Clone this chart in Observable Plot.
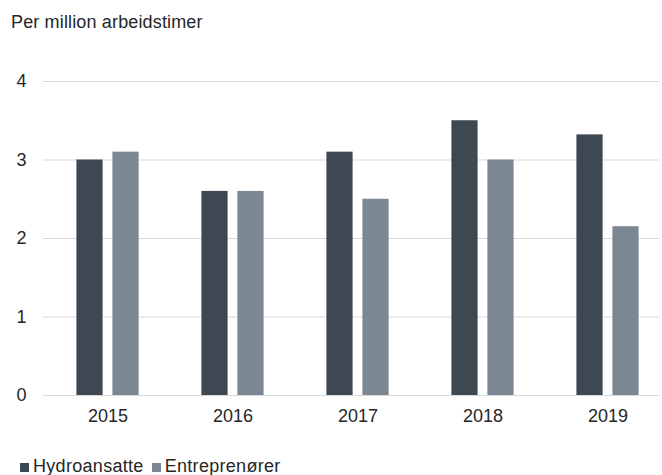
<!DOCTYPE html>
<html>
<head>
<meta charset="utf-8">
<script src="https://cdn.jsdelivr.net/npm/d3@7"></script>
<script src="https://cdn.jsdelivr.net/npm/@observablehq/plot@0.6"></script>
<style>
  html, body { margin: 0; padding: 0; background: #fff; }
  body { width: 662px; height: 475px; overflow: hidden; font-family: "Liberation Sans", Arial, sans-serif; color: #262626; }
  #title { height: 40px; box-sizing: border-box; padding: 12px 0 0 11px; font-size: 18px; line-height: 20px; letter-spacing: 0.15px; }
  #chart svg { display: block; }
  #legend { box-sizing: border-box; padding: 16px 0 0 20px; font-size: 18px; line-height: 20px; white-space: nowrap; letter-spacing: 0.3px; }
  .sw { display: inline-block; width: 9px; height: 9px; margin-right: 4px; vertical-align: 0px; }
  .item { margin-right: 8px; }
</style>
</head>
<body>
<div id="title">Per million arbeidstimer</div>
<div id="chart"></div>
<div id="legend"></div>
<script>
const years = ["2015", "2016", "2017", "2018", "2019"];
const seriesNames = ["Hydroansatte", "Entreprenører"];
const hydroansatte = [3.0, 2.6, 3.1, 3.5, 3.32];
const entreprenorer = [3.1, 2.6, 2.5, 3.0, 2.15];
const yTicks = [0, 1, 2, 3, 4];
const colors = ["#3e4852", "#7b8893"];

const dataH = years.map((y, i) => ({year: y, value: hydroansatte[i]}));
const dataE = years.map((y, i) => ({year: y, value: entreprenorer[i]}));

const plot = Plot.plot({
  width: 662,
  height: 400,
  marginTop: 41,
  marginBottom: 45,
  marginLeft: 43,
  marginRight: 3,
  style: {fontSize: "18px", fontFamily: "'Liberation Sans', Arial, sans-serif", color: "#262626", background: "transparent"},
  x: {type: "band", domain: years, range: [43, 672], padding: 0},
  y: {domain: [0, 4]},
  marks: [
    Plot.ruleY(yTicks, {stroke: "#d9d9d9", strokeWidth: 1}),
    Plot.barY(dataH, {x: "year", y: "value", fill: colors[0], insetLeft: 31.4, insetRight: 67.4}),
    Plot.barY(dataE, {x: "year", y: "value", fill: colors[1], insetLeft: 67.4, insetRight: 31.4}),
    Plot.axisY({ticks: yTicks, tickSize: 0, tickPadding: 17, label: null, tickFormat: d => String(d)}),
    Plot.axisX({tickSize: 0, tickPadding: 14, label: null})
  ]
});
document.getElementById("chart").appendChild(plot);

const legend = document.getElementById("legend");
seriesNames.forEach((name, i) => {
  const span = document.createElement("span");
  span.className = "item";
  const sw = document.createElement("span");
  sw.className = "sw";
  sw.style.background = colors[i];
  span.appendChild(sw);
  span.appendChild(document.createTextNode(name));
  legend.appendChild(span);
});
</script>
</body>
</html>
